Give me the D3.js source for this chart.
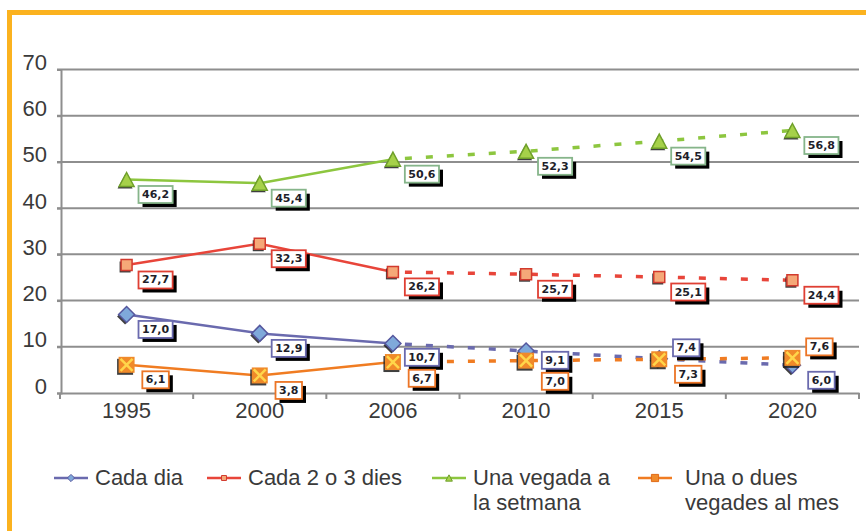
<!DOCTYPE html>
<html>
<head>
<meta charset="utf-8">
<script src="https://cdn.jsdelivr.net/npm/d3@7"></script>
<style>
  html, body { margin: 0; padding: 0; background: #fff; }
  svg { display: block; }
</style>
</head>
<body>
<svg id="chart" width="866" height="531"></svg>
<script>
// ---- data ----
const years = ['1995', '2000', '2006', '2010', '2015', '2020'];
const cadaDia = [17.0, 12.9, 10.7, 9.1, 7.4, 6.0];
const cada2o3 = [27.7, 32.3, 26.2, 25.7, 25.1, 24.4];
const setmana = [46.2, 45.4, 50.6, 52.3, 54.5, 56.8];
const alMes = [6.1, 3.8, 6.7, 7.0, 7.3, 7.6];
const yTicks = [0, 10, 20, 30, 40, 50, 60, 70];
const legendLabels = [['Cada dia'], ['Cada 2 o 3 dies'], ['Una vegada a', 'la setmana'], ['Una o dues', 'vegades al mes']];
const projectionStart = '2006';

// ---- series styling ----
const series = [
  { values: cadaDia, line: '#6a6aae', stroke: '#55579e', fill: '#7fa9da', box: '#6a6aae', shape: 'diamond' },
  { values: cada2o3, line: '#e8453a', stroke: '#d23a2e', fill: '#f5a878', box: '#df3f33', shape: 'square' },
  { values: setmana, line: '#8dc63f', stroke: '#6fa02a', fill: '#a6d14a', box: '#86b58a', shape: 'triangle' },
  { values: alMes, line: '#f07c22', stroke: '#e06a18', fill: '#f08a2a', box: '#ec7526', shape: 'cross' }
];

const svg = d3.select('#chart');
const W = 866, H = 531;
svg.append('rect').attr('width', W).attr('height', H).attr('fill', '#fff');

// orange frame (top and left)
svg.append('rect').attr('x', 7).attr('y', 10).attr('width', W - 7).attr('height', 5).attr('fill', '#fbb21f');
svg.append('rect').attr('x', 7).attr('y', 10).attr('width', 5).attr('height', H - 10).attr('fill', '#fbb21f');

const x = d3.scaleBand().domain(years).range([60, 859]);
const y = d3.scaleLinear().domain([0, 70]).range([393, 69.5]);
const cx = d => x(d) + x.bandwidth() / 2;

// gridlines
svg.append('g').selectAll('line').data(yTicks.filter(t => t > 0)).join('line')
  .attr('x1', 57).attr('x2', 859)
  .attr('y1', d => y(d)).attr('y2', d => y(d))
  .attr('stroke', '#8e8e8e').attr('stroke-width', 2);

// y axis
const yAxis = svg.append('g').attr('transform', 'translate(61,0)')
  .call(d3.axisLeft(y).tickValues(yTicks).tickSize(4).tickPadding(10).tickFormat(d3.format('d')));
yAxis.select('.domain').attr('stroke', '#8e8e8e').attr('stroke-width', 2);
yAxis.selectAll('.tick line').attr('stroke', '#8e8e8e').attr('stroke-width', 2);
yAxis.selectAll('.tick text')
  .attr('font-family', 'Liberation Sans, Arial, sans-serif').attr('font-size', 22)
  .attr('fill', '#3a3a3a').attr('dy', '0');

// x axis
const xAxis = svg.append('g').attr('transform', 'translate(0,393)')
  .call(d3.axisBottom(x).tickSize(0).tickPadding(25));
xAxis.select('.domain').attr('stroke', '#8e8e8e').attr('stroke-width', 2);
xAxis.selectAll('.tick text')
  .attr('font-family', 'Liberation Sans, Arial, sans-serif').attr('font-size', 22)
  .attr('fill', '#3a3a3a').attr('dy', '0');
// band boundary ticks
const bounds = years.map(d => x(d)).concat([x(years[years.length - 1]) + x.bandwidth()]);
svg.append('g').selectAll('line').data(bounds).join('line')
  .attr('x1', d => d).attr('x2', d => d).attr('y1', 393).attr('y2', 399)
  .attr('stroke', '#8e8e8e').attr('stroke-width', 2);

// lines
const pIdx = years.indexOf(projectionStart);
const lineGen = d3.line().x(d => cx(d.year)).y(d => y(d.v));
series.forEach(s => {
  const pts = years.map((yr, i) => ({ year: yr, v: s.values[i] }));
  svg.append('path').datum(pts.slice(0, pIdx + 1)).attr('d', lineGen)
    .attr('fill', 'none').attr('stroke', s.line).attr('stroke-width', 2.5);
  svg.append('path').datum(pts.slice(pIdx)).attr('d', lineGen)
    .attr('fill', 'none').attr('stroke', s.line).attr('stroke-width', 3.5)
    .attr('stroke-dasharray', '7,14').attr('stroke-dashoffset', -12);
});

// marker shapes
function shapePath(shape, k) {
  const p = d3.path();
  if (shape === 'diamond') {
    const r = 8 * k;
    p.moveTo(0, -r); p.lineTo(r, 0); p.lineTo(0, r); p.lineTo(-r, 0); p.closePath();
  } else if (shape === 'square') {
    const r = 5.5 * k;
    p.rect(-r, -r, 2 * r, 2 * r);
  } else if (shape === 'triangle') {
    const w = 7.5 * k, h = 7 * k;
    p.moveTo(0, -h); p.lineTo(w, h); p.lineTo(-w, h); p.closePath();
  } else {
    const r = 8 * k;
    p.rect(-r, -r, 2 * r, 2 * r);
  }
  return p.toString();
}
function drawMarker(g, s, k) {
  g.append('path').attr('d', shapePath(s.shape, k)).attr('transform', 'translate(-1.5,2)')
    .attr('fill', '#1d1d1d').attr('opacity', 0.85);
  g.append('path').attr('d', shapePath(s.shape, k))
    .attr('fill', s.fill).attr('stroke', s.stroke).attr('stroke-width', s.shape === 'cross' ? 0 : 1.5);
  if (s.shape === 'cross') {
    const r = 6 * k;
    g.append('path').attr('d', `M${-r},${-r}L${r},${r}M${r},${-r}L${-r},${r}`)
      .attr('stroke', '#ffd64a').attr('stroke-width', 2.5 * k);
  }
}

series.forEach(s => {
  years.forEach((yr, i) => {
    const g = svg.append('g').attr('transform', `translate(${cx(yr)},${y(s.values[i])})`);
    drawMarker(g, s, 1);
  });
});

// data labels
const fmt = v => v.toFixed(1).replace('.', ',');
const labelH = 17;
years.forEach((yr, i) => {
  const items = series.map((s, si) => {
    const v = s.values[i];
    const closeBelow = series.some((o, oi) => oi !== si && v - o.values[i] > 0 && v - o.values[i] < 2);
    return { s, v, lx: cx(yr) + (closeBelow ? 27 : 29), ly: y(v) + (closeBelow ? -11 : 15) };
  });
  items.sort((a, b) => a.ly - b.ly);
  for (let j = 1; j < items.length; j++) {
    const a = items[j - 1], b = items[j];
    const need = labelH + 4 - (b.ly - a.ly);
    if (need > 0) { a.ly -= need / 2; b.ly += need / 2; }
  }
  items.forEach(it => {
    const g = svg.append('g').attr('transform', `translate(${it.lx},${it.ly})`);
    const t = g.append('text').text(fmt(it.v))
      .attr('font-family', 'DejaVu Sans, Verdana, sans-serif').attr('font-weight', 'bold')
      .attr('font-size', 11).attr('fill', '#1e1e2a')
      .attr('text-anchor', 'middle').attr('dominant-baseline', 'central');
    const w = t.node().getComputedTextLength() + 7;
    g.insert('rect', 'text').attr('x', -w / 2 + 4).attr('y', -labelH / 2 + 4)
      .attr('width', w).attr('height', labelH).attr('fill', '#000');
    g.insert('rect', 'text').attr('x', -w / 2).attr('y', -labelH / 2)
      .attr('width', w).attr('height', labelH).attr('fill', '#fff')
      .attr('stroke', it.s.box).attr('stroke-width', 1.8);
  });
});

// legend
const legendX = [54, 207, 432, 638];
const legendTextX = [95, 248, 473, 685];
series.forEach((s, i) => {
  const g = svg.append('g');
  g.append('line').attr('x1', legendX[i]).attr('x2', legendX[i] + 34)
    .attr('y1', 478).attr('y2', 478).attr('stroke', s.line).attr('stroke-width', 2.5);
  const m = g.append('g').attr('transform', `translate(${legendX[i] + 17},478)`);
  m.append('path').attr('d', shapePath(s.shape, 0.45)).attr('fill', s.fill)
    .attr('stroke', s.stroke).attr('stroke-width', 1);
  const t = g.append('text').attr('x', legendTextX[i]).attr('y', 485)
    .attr('font-family', 'Liberation Sans, Arial, sans-serif').attr('font-size', 22).attr('fill', '#3a3a3a');
  legendLabels[i].forEach((ln, li) => {
    t.append('tspan').attr('x', legendTextX[i]).attr('dy', li === 0 ? 0 : 25).text(ln);
  });
});
</script>
</body>
</html>
